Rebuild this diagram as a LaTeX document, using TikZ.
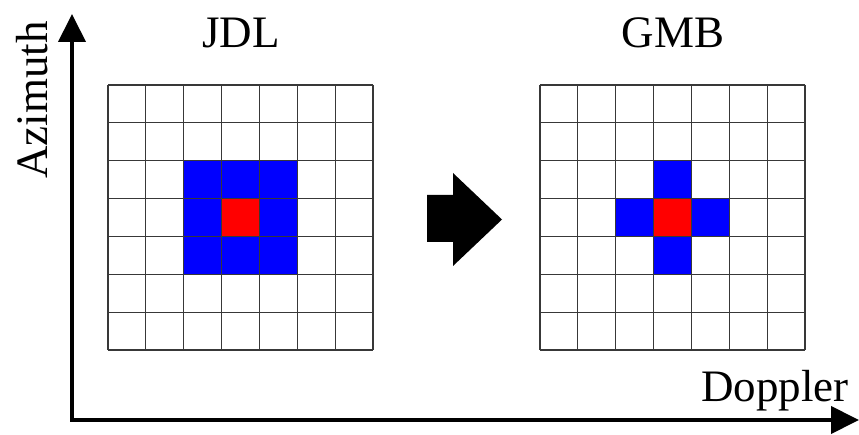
\documentclass[tikz,border=0pt]{standalone}
\usepackage{fontspec}
\setmainfont{Liberation Serif}
\usetikzlibrary{arrows.meta}
\definecolor{cellblue}{RGB}{0,0,255}
\definecolor{cellred}{RGB}{255,0,0}
\tikzset{
  gridline/.style={draw=black!78, line width=1.2pt},
  axisline/.style={line width=4pt, line join=miter, {Triangle[length=28pt,width=27pt]}-{Triangle[length=28pt,width=27pt]}},
  label/.style={font=\fontsize{45}{45}\selectfont, inner sep=0pt},
  blockarrow/.style={fill=black, draw=none},
}
\begin{document}
\begin{tikzpicture}[x=1pt,y=-1pt]
\useasboundingbox (0,0) rectangle (859,435);
\def\cs{37.86}
% left grid (JDL)
\begin{scope}[shift={(108,85)}]
  \foreach \c/\r in {2/2,3/2,4/2,2/3,4/3,2/4,3/4,4/4}
    \fill[cellblue] (\c*\cs,\r*\cs) rectangle ++(\cs,\cs);
  \fill[cellred] (3*\cs,3*\cs) rectangle ++(\cs,\cs);
  \foreach \i in {0,...,7} {
    \draw[gridline] (\i*\cs,0) -- (\i*\cs,7*\cs);
    \draw[gridline] (0,\i*\cs) -- (7*\cs,\i*\cs);
  }
  \coordinate (L) at (0,0);
\end{scope}
% right grid (GMB)
\begin{scope}[shift={(540,85)}]
  \foreach \c/\r in {3/2,2/3,4/3,3/4}
    \fill[cellblue] (\c*\cs,\r*\cs) rectangle ++(\cs,\cs);
  \fill[cellred] (3*\cs,3*\cs) rectangle ++(\cs,\cs);
  \foreach \i in {0,...,7} {
    \draw[gridline] (\i*\cs,0) -- (\i*\cs,7*\cs);
    \draw[gridline] (0,\i*\cs) -- (7*\cs,\i*\cs);
  }
  \coordinate (R) at (0,0);
\end{scope}
% block arrow
\fill[blockarrow] (427,195) -- (453,195) -- (453,173) -- (502,219.5) -- (453,266) -- (453,242) -- (427,242) -- cycle;
% axes
\coordinate (ytop) at (72,14);
\coordinate (origin) at (72,420);
\coordinate (xend) at (859,420);
\draw[axisline] (ytop) -- (origin) -- (xend);
% labels
\node[label, anchor=base] (jdl) at (241,48) {JDL};
\node[label, anchor=base] (gmb) at (673,48) {GMB};
\node[label, anchor=base west] (dop) at (701,401) {Doppler};
\node[label, anchor=base, rotate=90] (azi) at (47,100) {Azimuth};
\end{tikzpicture}
\end{document}
